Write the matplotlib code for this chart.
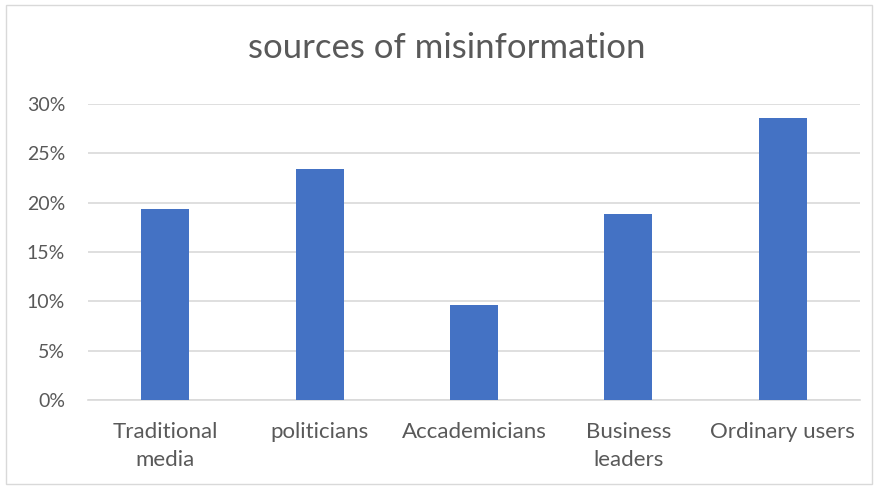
import matplotlib.pyplot as plt
import numpy as np
from matplotlib.ticker import PercentFormatter
from matplotlib.patches import Rectangle

categories = ['Traditional\nmedia', 'politicians', 'Accademicians', 'Business\nleaders', 'Ordinary users']
shares = [19.4, 23.4, 9.6, 18.9, 28.6]
yticks = [0, 5, 10, 15, 20, 25, 30]

plt.rcParams['font.family'] = ['Lato', 'DejaVu Sans']
text_color = '#595959'
grid_color = '#d9d9d9'

fig = plt.figure(figsize=(8.76, 4.88), dpi=100)
ax = fig.add_axes([88 / 876, 1 - 400 / 488, (860 - 88) / 876, (400 - 104) / 488])

x = np.arange(len(categories))
ax.bar(x, shares, width=0.31, color='#4472c4', zorder=3)

ax.set_xlim(-0.5, len(categories) - 0.5)
ax.set_ylim(0, 30)
ax.set_yticks(yticks)
ax.yaxis.set_major_formatter(PercentFormatter(decimals=0))
ax.set_xticks(x)
ax.set_xticklabels(categories, fontsize=16, color=text_color, linespacing=1.55, va='top')
ax.tick_params(axis='y', labelsize=14, labelcolor=text_color, length=0, pad=16.5)
ax.tick_params(axis='x', length=0, pad=15.5)

ax.grid(axis='y', color=grid_color, linewidth=1.2, zorder=0)
for side in ['top', 'right', 'left']:
    ax.spines[side].set_visible(False)
ax.spines['bottom'].set_color(grid_color)
ax.spines['bottom'].set_linewidth(1.2)

fig.text(447 / 876, 1 - 48 / 488, 'sources of misinformation', ha='center', va='center',
         fontsize=25, color=text_color)

# chart frame
fig.patches.append(Rectangle((6 / 876, 1 - 484 / 488), 866 / 876, 479 / 488,
                             transform=fig.transFigure, fill=False,
                             edgecolor=grid_color, linewidth=1))

fig.savefig('out.png', dpi=100)
